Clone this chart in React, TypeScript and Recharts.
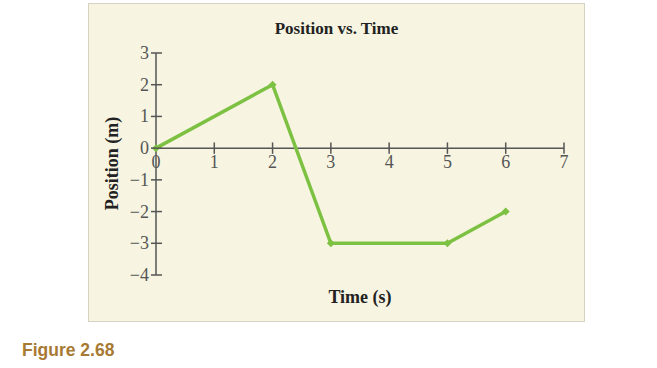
import { LineChart, Line, XAxis, YAxis, ReferenceLine } from 'recharts';

const times = [0, 2, 3, 5, 6];
const positions = [0, 2, -3, -3, -2];
const xTicks = [0, 1, 2, 3, 4, 5, 6, 7];
const yTicks = [-4, -3, -2, -1, 0, 1, 2, 3];

const data = times.map((t, i) => ({ t, p: positions[i] }));

const AXIS = '#555';
const GREEN = '#7dc143';
const serif = '"Liberation Serif", "DejaVu Serif", serif';

const fmt = (v: number) => (v < 0 ? `\u2212${-v}` : `${v}`);

function YTick(props: any) {
  const { x, y, payload } = props;
  return (
    <g>
      <line x1={x - 5} x2={x + 6} y1={y} y2={y} stroke={AXIS} strokeWidth={1.5} />
      <text
        x={x - 7}
        y={y}
        textAnchor="end"
        dominantBaseline="central"
        fontFamily={serif}
        fontSize={18}
        fill={AXIS}
      >
        {fmt(payload.value)}
      </text>
    </g>
  );
}

function Diamond(props: any) {
  const { cx, cy } = props;
  if (cx == null || cy == null) return null;
  const s = 4;
  return (
    <polygon
      points={`${cx},${cy - s} ${cx + s},${cy} ${cx},${cy + s} ${cx - s},${cy}`}
      fill={GREEN}
    />
  );
}

export default function App() {
  return (
    <div
      style={{
        position: 'absolute',
        left: 0,
        top: 0,
        width: 657,
        height: 368,
        background: '#fff',
      }}
    >
      <div
        style={{
          position: 'absolute',
          left: 88,
          top: 3,
          width: 497,
          height: 319,
          boxSizing: 'border-box',
          background: '#f7f5e1',
          border: '1px solid #d6d3c0',
        }}
      />
      <div
        style={{
          position: 'absolute',
          left: 88,
          top: 19,
          width: 497,
          textAlign: 'center',
          fontFamily: serif,
          fontWeight: 'bold',
          fontSize: 17,
          color: '#222',
        }}
      >
        Position vs. Time
      </div>
      <div style={{ position: 'absolute', left: 88, top: 3 }}>
        <LineChart
          width={497}
          height={319}
          data={data}
          margin={{ top: 50, right: 21, bottom: 47, left: 38 }}
        >
          <XAxis dataKey="t" type="number" domain={[0, 7]} ticks={xTicks} hide />
          <YAxis
            type="number"
            domain={[-4, 3]}
            ticks={yTicks}
            width={30}
            axisLine={{ stroke: AXIS, strokeWidth: 1.5 }}
            tickLine={false}
            tickSize={0}
            tickMargin={0}
            tick={<YTick />}
            interval={0}
          />
          <ReferenceLine y={0} stroke={AXIS} strokeWidth={1.5} />
          {xTicks.map((t) => (
            <ReferenceLine
              key={t}
              segment={[
                { x: t, y: -0.18 },
                { x: t, y: 0.18 },
              ]}
              stroke={t === 0 ? 'none' : AXIS}
              strokeWidth={1.5}
              label={{
                value: fmt(t),
                position: 'bottom',
                offset: 1,
                fontFamily: serif,
                fontSize: 18,
                fill: AXIS,
              }}
            />
          ))}
          <Line
            type="linear"
            dataKey="p"
            stroke={GREEN}
            strokeWidth={3.5}
            dot={<Diamond />}
            activeDot={false}
            isAnimationActive={false}
          />
        </LineChart>
      </div>
      <div
        style={{
          position: 'absolute',
          left: 310,
          top: 287,
          width: 100,
          textAlign: 'center',
          fontFamily: serif,
          fontWeight: 'bold',
          fontSize: 18,
          color: '#222',
        }}
      >
        Time (s)
      </div>
      <div
        style={{
          position: 'absolute',
          left: 52,
          top: 153,
          width: 120,
          textAlign: 'center',
          fontFamily: serif,
          fontWeight: 'bold',
          fontSize: 18,
          color: '#222',
          transform: 'rotate(-90deg)',
        }}
      >
        Position (m)
      </div>
      <div
        style={{
          position: 'absolute',
          left: 22,
          top: 340,
          fontFamily: '"Liberation Sans", Arial, sans-serif',
          fontWeight: 'bold',
          fontSize: 17.5,
          color: '#a77a33',
        }}
      >
        Figure 2.68
      </div>
    </div>
  );
}
